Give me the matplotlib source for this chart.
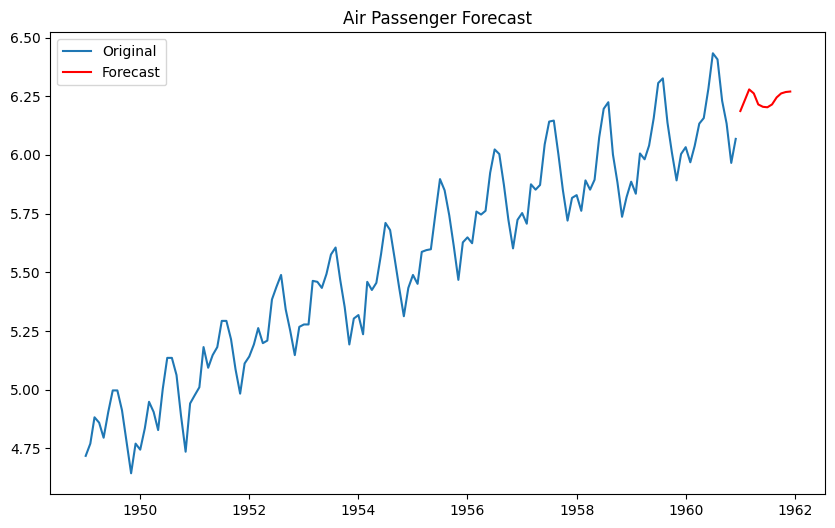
import matplotlib
matplotlib.use("Agg")
import matplotlib.pyplot as plt
import numpy as np
import pandas as pd

# monthly air passengers (thousands), 1949-1960
passengers = [
    112, 118, 132, 129, 121, 135, 148, 148, 136, 119, 104, 118,
    115, 126, 141, 135, 125, 149, 170, 170, 158, 133, 114, 140,
    145, 150, 178, 163, 172, 178, 199, 199, 184, 162, 146, 166,
    171, 180, 193, 181, 183, 218, 230, 242, 209, 191, 172, 194,
    196, 196, 236, 235, 229, 243, 264, 272, 237, 211, 180, 201,
    204, 188, 235, 227, 234, 264, 302, 293, 259, 229, 203, 229,
    242, 233, 267, 269, 270, 315, 364, 347, 312, 274, 237, 278,
    284, 277, 317, 313, 318, 374, 413, 405, 355, 306, 271, 306,
    315, 301, 356, 348, 355, 422, 465, 467, 404, 347, 305, 336,
    340, 318, 362, 348, 363, 435, 491, 505, 404, 359, 310, 337,
    360, 342, 406, 396, 420, 472, 548, 559, 463, 407, 362, 405,
    417, 391, 419, 461, 472, 535, 622, 606, 508, 461, 390, 432,
]
# log forecast for 1961
forecast = [6.187, 6.235, 6.279, 6.262, 6.215, 6.205,
            6.203, 6.215, 6.245, 6.262, 6.268, 6.270]

orig_idx = pd.date_range("1949-01-01", periods=len(passengers), freq="MS")
fc_idx = pd.date_range("1961-01-01", periods=len(forecast), freq="MS")
log_pass = np.log(passengers)

fig, ax = plt.subplots(figsize=(10, 6))
ax.plot(orig_idx, log_pass, label="Original")
ax.plot(fc_idx, forecast, color="red", label="Forecast")
ax.set_title("Air Passenger Forecast")
ax.legend(loc="upper left")

fig.savefig("out.png", dpi=100, bbox_inches="tight")
